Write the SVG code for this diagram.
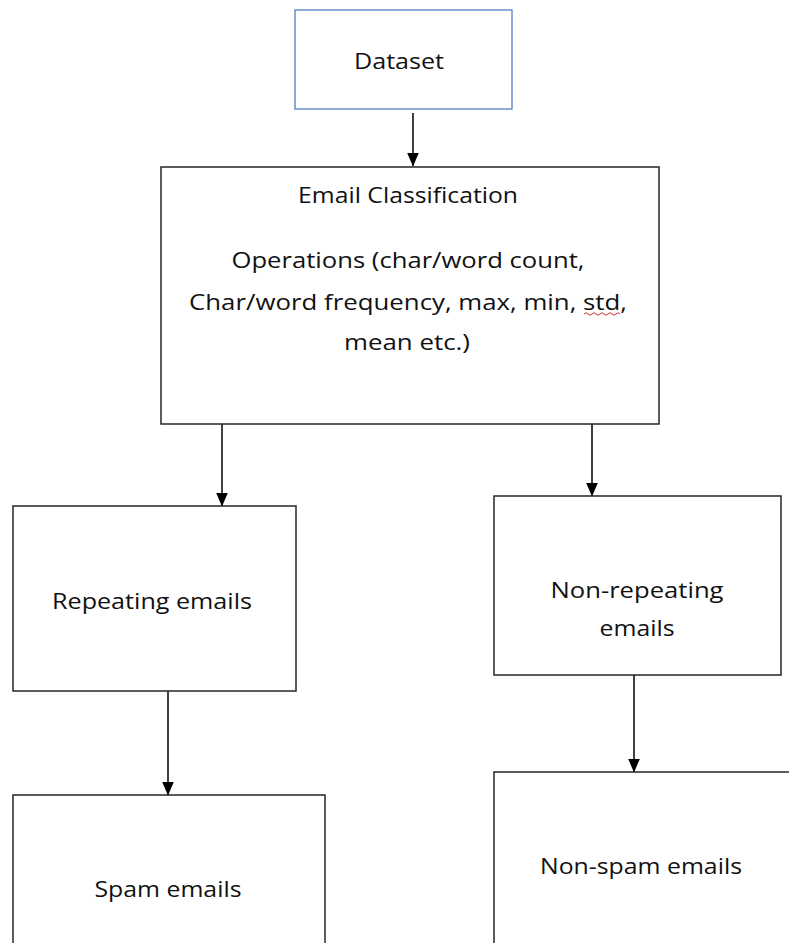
<svg xmlns="http://www.w3.org/2000/svg" width="789" height="943" viewBox="0 0 789 943">
<style>
.box{fill:#fff;stroke:#262626;stroke-width:1.5}
.blue{fill:#fff;stroke:#4f7ec4;stroke-width:1.3}
.t{font-family:"Open Sans","Noto Sans",sans-serif;font-size:22px;fill:#111;text-anchor:middle}
.c{stroke:#000;stroke-width:1.5;fill:none;marker-end:url(#ah)}
</style>
<defs>
<marker id="ah" markerUnits="userSpaceOnUse" markerWidth="14" markerHeight="13" refX="13.5" refY="6.5" orient="auto" viewBox="0 0 14 13">
<path d="M0,0.5 L14,6.5 L0,12.5 Z" fill="#000"/>
</marker>
</defs>
<rect width="789" height="943" fill="#fff"/>
<g id="connectors">
<path class="c" d="M413,113 V166"/>
<path class="c" d="M222,424 V506"/>
<path class="c" d="M592,424 V496"/>
<path class="c" d="M168,691 V795"/>
<path class="c" d="M634,675 V772"/>
</g>
<g id="dataset">
<rect class="blue" x="295" y="10" width="217" height="99"/>
<text class="t" x="399" y="69" textLength="90" lengthAdjust="spacingAndGlyphs">Dataset</text>
</g>
<g id="email-classification">
<rect class="box" x="161" y="167" width="498" height="257"/>
<text class="t" x="408" y="203" textLength="220" lengthAdjust="spacingAndGlyphs">Email Classification</text>
<text class="t" x="408" y="268" textLength="353" lengthAdjust="spacingAndGlyphs">Operations (char/word count,</text>
<text class="t" x="408" y="310" textLength="438" lengthAdjust="spacingAndGlyphs">Char/word frequency, max, min, std,</text>
<text class="t" x="407" y="350" textLength="126" lengthAdjust="spacingAndGlyphs">mean etc.)</text>
<path d="M584,314 q2,-2.5 4,0 t4,0 t4,0 t4,0 t4,0 t4,0 t4,0 t4,0 t4,0" fill="none" stroke="#d42a2a" stroke-width="1"/>
</g>
<g id="repeating">
<rect class="box" x="13" y="506" width="283" height="185"/>
<text class="t" x="152" y="609" textLength="200" lengthAdjust="spacingAndGlyphs">Repeating emails</text>
</g>
<g id="non-repeating">
<rect class="box" x="494" y="496" width="287" height="179"/>
<text class="t" x="637" y="598" textLength="173" lengthAdjust="spacingAndGlyphs">Non-repeating</text>
<text class="t" x="637" y="636" textLength="75" lengthAdjust="spacingAndGlyphs">emails</text>
</g>
<g id="spam">
<rect class="box" x="13" y="795" width="312" height="160"/>
<text class="t" x="168" y="897" textLength="147" lengthAdjust="spacingAndGlyphs">Spam emails</text>
</g>
<g id="non-spam">
<rect class="box" x="494" y="772" width="310" height="190"/>
<text class="t" x="641" y="874" textLength="202" lengthAdjust="spacingAndGlyphs">Non-spam emails</text>
</g>
</svg>
